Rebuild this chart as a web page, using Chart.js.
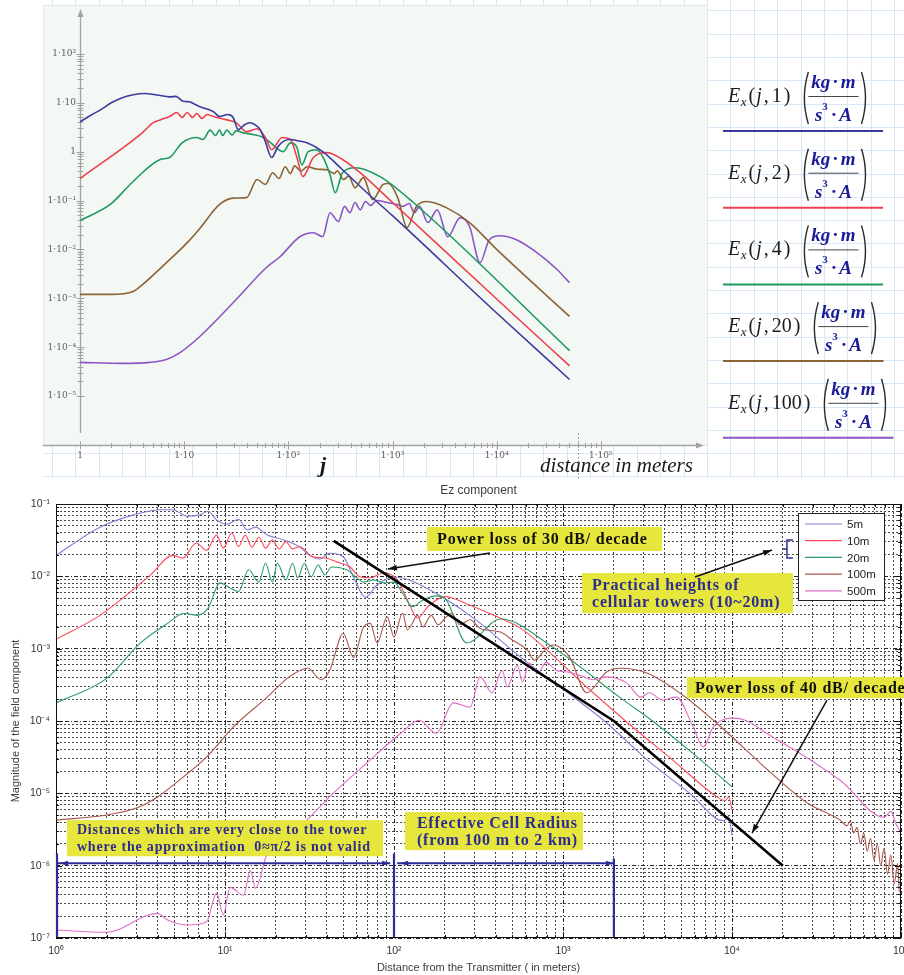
<!DOCTYPE html>
<html lang="en">
<head>
<meta charset="utf-8">
<title>Field magnitude versus distance from the transmitter</title>
<script src="https://cdn.jsdelivr.net/npm/chart.js@4.4.1/dist/chart.umd.min.js"></script>
<style>
  html, body { margin: 0; padding: 0; background: #ffffff; }
  #page { position: relative; width: 904px; height: 975px; overflow: hidden; }
  .panel { position: absolute; left: 0; width: 904px; }
  #exPanel { top: 0; height: 480px; }
  #ezPanel { top: 480px; height: 495px; }
</style>
</head>
<body>
<div id="page">
  <div class="panel" id="exPanel"><canvas id="exChart"></canvas></div>
  <div class="panel" id="ezPanel"><canvas id="ezChart"></canvas></div>
</div>
<script>
// ---------------------------------------------------------------------------
// Upper panel: Ex(j, p) for five source parameters.
// Values are stored as decades: log10(distance in m) and log10(|Ex|).
// ---------------------------------------------------------------------------
const exParams = [1, 2, 4, 20, 100];

const ex1LogD = [0, 0.1, 0.2, 0.3, 0.4, 0.5, 0.62, 0.74, 0.86, 0.92, 0.99, 1.05, 1.1, 1.15, 1.28, 1.34, 1.42, 1.47, 1.52, 1.58, 1.63, 1.68, 1.73, 1.78, 1.84, 1.9, 1.96, 2.02, 2.1, 2.18, 2.33, 2.52, 2.75, 3.0, 4.0, 4.7];
const ex1LogE = [0.61, 0.74, 0.86, 1.0, 1.1, 1.16, 1.19, 1.16, 1.12, 1.13, 1.03, 1.02, 0.97, 0.92, 0.82, 0.72, 0.76, 0.7, 0.45, 0.55, 0.59, 0.55, 0.45, 0.2, -0.12, 0.1, 0.22, 0.25, 0.22, 0.18, 0, -0.37, -0.83, -1.31, -3.3, -4.66];

const ex2LogD = [0, 0.6, 0.7, 0.77, 0.86, 0.93, 0.98, 1.03, 1.08, 1.12, 1.17, 1.22, 1.28, 1.41, 1.5, 1.6, 1.7, 1.78, 1.84, 1.94, 2.02, 2.08, 2.14, 2.24, 2.37, 2.52, 2.7, 3.0, 4.13, 4.7];
const ex2LogE = [-0.55, 0.39, 0.59, 0.65, 0.72, 0.8, 0.7, 0.8, 0.7, 0.78, 0.68, 0.76, 0.72, 0.65, 0.59, 0.41, 0.47, 0.29, 0.04, 0.29, 0.25, -0.1, -0.51, -0.12, -0.02, -0.16, -0.45, -1.04, -3.27, -4.38];

const ex4LogD = [0, 0.29, 0.51, 0.77, 0.86, 0.98, 1.12, 1.18, 1.25, 1.3, 1.34, 1.37, 1.41, 1.46, 1.5, 1.56, 1.66, 1.76, 1.82, 1.95, 2.02, 2.08, 2.13, 2.19, 2.27, 2.33, 2.4, 2.45, 2.52, 2.64, 2.88, 3.2, 4.7];
const ex4LogE = [-1.41, -1.08, -0.61, -0.16, -0.12, 0.18, 0.29, 0.25, 0.44, 0.33, 0.44, 0.33, 0.44, 0.34, 0.43, 0.39, 0.35, 0.29, 0.2, 0, 0.18, 0.1, -0.27, 0, 0.04, -0.1, -0.47, -0.84, -0.43, -0.33, -0.51, -1.04, -4.07];

const ex20LogD = [0, 0.3, 0.51, 0.6, 0.83, 1.03, 1.15, 1.34, 1.47, 1.6, 1.7, 1.78, 1.85, 1.91, 1.97, 2.02, 2.06, 2.12, 2.18, 2.28, 2.37, 2.44, 2.47, 2.53, 2.58, 2.64, 2.72, 2.81, 2.91, 2.96, 3.05, 3.14, 3.23, 3.33, 3.52, 3.74, 4.0, 4.7];
const ex20LogE = [-2.92, -2.92, -2.86, -2.72, -2.27, -1.86, -1.57, -1.08, -0.95, -0.94, -0.57, -0.67, -0.43, -0.55, -0.31, -0.45, -0.29, -0.4, -0.31, -0.36, -0.37, -0.45, -0.39, -0.57, -0.5, -0.74, -0.53, -0.98, -0.67, -0.65, -0.94, -1.55, -1.12, -1.02, -1.15, -1.45, -2.0, -3.37];

const ex100LogD = [0, 0.4, 0.67, 0.83, 0.96, 1.15, 1.47, 1.79, 1.92, 2.11, 2.24, 2.33, 2.4, 2.48, 2.54, 2.59, 2.64, 2.69, 2.74, 2.79, 2.85, 2.95, 3.04, 3.1, 3.16, 3.21, 3.26, 3.34, 3.43, 3.53, 3.65, 3.74, 3.84, 3.93, 4.03, 4.19, 4.39, 4.58, 4.7];
const ex100LogE = [-4.31, -4.33, -4.31, -4.25, -4.11, -3.78, -3.09, -2.37, -2.15, -1.74, -1.66, -1.74, -1.25, -1.43, -1.12, -1.25, -1.04, -1.19, -1.02, -1.1, -1.0, -1.04, -1.08, -1.12, -1.06, -1.25, -1.12, -1.45, -1.19, -1.74, -1.35, -1.53, -2.27, -1.8, -1.72, -1.8, -2.07, -2.41, -2.68];

const exXTickExp = [0, 1, 2, 3, 4, 5];
const exXTickLabels = ['1', '1·10', '1·10²', '1·10³', '1·10⁴', '1·10⁵'];
const exYTickExp = [2, 1, 0, -1, -2, -3, -4, -5];
const exYTickLabels = ['1·10²', '1·10', '1', '1·10⁻¹', '1·10⁻²', '1·10⁻³', '1·10⁻⁴', '1·10⁻⁵'];
const exRangeMarker = 6e4;

// ---------------------------------------------------------------------------
// Lower panel: Ez component for five tower heights (decades again).
// ---------------------------------------------------------------------------
const ezHeights = ['5m', '10m', '20m', '100m', '500m'];

const ez5LogD = [0, 0.26, 0.46, 0.62, 0.69, 0.78, 0.85, 0.9, 0.95, 1.01, 1.08, 1.13, 1.18, 1.25, 1.34, 1.44, 1.5, 1.56, 1.62, 1.7, 1.76, 1.83, 1.9, 2.0, 2.09, 2.19, 2.29, 2.5, 2.75, 3.0, 3.24, 3.5, 3.75, 3.95, 3.98, 4.0];
const ez5LogE = [-1.71, -1.32, -1.15, -1.08, -1.08, -1.17, -1.15, -1.1, -1.22, -1.28, -1.21, -1.36, -1.32, -1.43, -1.49, -1.59, -1.71, -1.76, -1.68, -1.73, -2.01, -2.29, -2.12, -2.01, -2.05, -2.16, -2.29, -2.63, -3.12, -3.56, -3.99, -4.54, -5.0, -5.38, -5.32, -5.58];

const ez10LogD = [0, 0.26, 0.56, 0.69, 0.75, 0.83, 0.89, 0.95, 0.99, 1.04, 1.08, 1.12, 1.16, 1.2, 1.24, 1.28, 1.32, 1.36, 1.4, 1.44, 1.52, 1.6, 1.66, 1.74, 1.8, 1.86, 1.94, 2.02, 2.08, 2.14, 2.2, 2.3, 2.45, 2.6, 2.75, 3.14, 3.41, 3.65, 3.9, 3.96, 3.98, 4.0];
const ez10LogE = [-2.87, -2.54, -1.98, -1.71, -1.75, -1.54, -1.64, -1.43, -1.61, -1.4, -1.59, -1.43, -1.6, -1.46, -1.61, -1.5, -1.62, -1.52, -1.62, -1.59, -1.73, -1.75, -1.8, -1.87, -2.01, -2.02, -1.95, -2.05, -2.33, -2.58, -2.42, -2.28, -2.4, -2.55, -2.72, -3.53, -4.08, -4.54, -5.03, -5.1, -5.05, -5.23];

const ez20LogD = [0, 0.3, 0.5, 0.66, 0.76, 0.83, 0.9, 0.97, 1.03, 1.08, 1.14, 1.2, 1.24, 1.28, 1.31, 1.36, 1.4, 1.43, 1.47, 1.51, 1.55, 1.59, 1.63, 1.72, 1.78, 1.82, 1.88, 1.94, 2.0, 2.05, 2.11, 2.17, 2.25, 2.31, 2.43, 2.63, 2.94, 3.34, 3.53, 3.77, 4.0];
const ez20LogE = [-3.75, -3.41, -2.92, -2.65, -2.51, -2.54, -2.44, -2.09, -2.16, -2.21, -1.91, -2.08, -1.82, -2.08, -1.82, -2.05, -1.82, -2.02, -1.82, -2.01, -1.84, -1.98, -1.87, -1.91, -2.02, -2.08, -2.05, -2.09, -2.08, -2.23, -2.42, -2.33, -2.27, -2.33, -2.92, -2.59, -2.98, -3.68, -4.0, -4.45, -4.91];

const ez100LogD = [0, 0.3, 0.48, 0.6, 0.75, 0.89, 1.05, 1.25, 1.38, 1.49, 1.57, 1.62, 1.7, 1.76, 1.82, 1.86, 1.9, 1.96, 2.0, 2.05, 2.08, 2.14, 2.17, 2.22, 2.26, 2.31, 2.34, 2.39, 2.45, 2.51, 2.63, 2.7, 2.79, 2.83, 2.9, 2.94, 3.04, 3.14, 3.26, 3.34, 3.5, 3.69, 3.89, 4.28, 4.45, 4.64, 4.68, 4.7, 4.72, 4.74, 4.76, 4.78, 4.8, 4.82, 4.84, 4.86, 4.88, 4.9, 4.92, 4.94, 4.96, 4.98, 4.99];
const ez100LogE = [-5.37, -5.3, -5.2, -5.05, -4.78, -4.5, -4.08, -3.67, -3.39, -3.27, -3.43, -3.3, -2.79, -3.12, -2.7, -2.65, -2.92, -2.56, -2.84, -2.51, -2.74, -2.54, -2.7, -2.54, -2.67, -2.56, -2.51, -2.67, -2.6, -2.72, -2.77, -2.88, -3.02, -3.16, -3.0, -2.95, -3.12, -3.61, -3.32, -3.27, -3.34, -3.61, -3.99, -4.82, -5.14, -5.37, -5.45, -5.38, -5.55, -5.47, -5.7, -5.55, -5.8, -5.62, -5.92, -5.7, -6.0, -5.76, -6.12, -5.85, -6.25, -5.97, -6.36];

const ez500LogD = [0, 0.3, 0.6, 0.66, 0.78, 0.89, 0.95, 0.99, 1.03, 1.11, 1.15, 1.18, 1.25, 1.44, 1.64, 1.84, 2.04, 2.15, 2.25, 2.35, 2.45, 2.51, 2.58, 2.64, 2.67, 2.73, 2.76, 2.8, 2.85, 2.9, 2.96, 3.02, 3.1, 3.18, 3.26, 3.38, 3.46, 3.51, 3.59, 3.67, 3.77, 3.83, 3.89, 4.02, 4.24, 4.64, 4.9, 4.94, 4.97, 5.0];
const ez500LogE = [-6.89, -6.92, -6.66, -6.75, -6.82, -6.78, -6.38, -6.68, -6.3, -6.41, -6.06, -6.31, -5.83, -5.47, -5.0, -4.58, -4.17, -3.99, -4.17, -3.75, -3.81, -3.39, -3.61, -3.3, -3.53, -3.23, -3.46, -3.2, -3.34, -3.19, -3.3, -3.32, -3.37, -3.43, -3.39, -3.48, -3.67, -3.61, -3.71, -3.67, -4.08, -4.36, -4.08, -3.96, -4.22, -4.82, -5.33, -5.25, -5.42, -5.55];

// Reference slope: 30 dB/decade out to 2 km, then 40 dB/decade (distance m, field).
const slopeGuideDist = [44, 2000, 20000];
const slopeGuideField = [0.031, 1e-4, 1e-6];

const ezXTickExp = [0, 1, 2, 3, 4, 5];
const ezXTickLabels = ['10⁰', '10¹', '10²', '10³', '10⁴', '10⁵'];
const ezYTickExp = [-7, -6, -5, -4, -3, -2, -1];
const ezYTickLabels = ['10⁻⁷', '10⁻⁶', '10⁻⁵', '10⁻⁴', '10⁻³', '10⁻²', '10⁻¹'];

// Callouts anchored in data coordinates (distance m, field value).
const calloutBoxes = [
  { x: [157, 3855], y: [0.0481, 0.0224], text: ['Power loss of 30 dB/ decade'], ink: '#111111', size: 16, inset: 10 },
  { x: [1295, 22950], y: [0.0111, 0.0031], text: ['Practical heights of', 'cellular towers (10~20m)'], ink: '#2d2d8f', size: 16, inset: 10 },
  { x: [5420, 150000], y: [4.05e-4, 2.07e-4], text: ['Power loss of 40 dB/ decade'], ink: '#111111', size: 16, inset: 8 },
  { x: [1.16, 86.1], y: [4.26e-6, 1.35e-6], text: ['Distances which are very close to the tower', 'where the approximation  0≈π/2 is not valid'], ink: '#2d2d8f', size: 14, inset: 10 },
  { x: [116, 1313], y: [5.5e-6, 1.64e-6], text: ['Effective Cell Radius', '(from 100 m to 2 km)'], ink: '#2d2d8f', size: 16, inset: 12 }
];
const pointerArrows = [
  { from: [370, 0.0210], to: [92, 0.01262] },
  { from: [6040, 0.00977], to: [17260, 0.0231] },
  { from: [36500, 1.95e-4], to: [13130, 2.82e-6] }
];
const spanArrows = [
  { from: 1, to: 95, at: 1.08e-6 },
  { from: 103, to: 2000, at: 1.08e-6 }
];
const spanEdges = [
  { x: 1, top: 1.48e-6 },
  { x: 100, top: 1.48e-6 },
  { x: 2000, top: 1.26e-6 }
];
const towerBracket = { x: 21150, y: [0.0318, 0.0179] };

// ---------------------------------------------------------------------------
// Helpers
// ---------------------------------------------------------------------------
const SERIF = '"Liberation Serif", "Times New Roman", serif';
const SANS = '"Liberation Sans", Arial, sans-serif';
Chart.defaults.font.family = SANS;

function fromDecades(logD, logE) {
  return logD.map((d, i) => ({ x: Math.pow(10, d), y: Math.pow(10, logE[i]) }));
}
function fromValues(xs, ys) {
  return xs.map((v, i) => ({ x: v, y: ys[i] }));
}
// 1..9 x 10^e tick positions for a logarithmic axis
function decadeTicks(minExp, maxExp) {
  const t = [];
  for (let e = minExp; e <= maxExp; e++) {
    for (let m = 1; m <= 9; m++) {
      if (e === maxExp && m > 1) break;
      t.push({ value: m * Math.pow(10, e), major: m === 1 });
    }
  }
  return t;
}
function decadeLabel(exps, labels) {
  return (value) => {
    const e = Math.log10(value);
    const r = Math.round(e);
    if (Math.abs(e - r) > 1e-6) return '';
    const k = exps.indexOf(r);
    return k < 0 ? '' : labels[k];
  };
}
function arrowHead(ctx, x0, y0, x1, y1, len, half) {
  const a = Math.atan2(y1 - y0, x1 - x0);
  const c = Math.cos(a), s = Math.sin(a);
  ctx.beginPath();
  ctx.moveTo(x1, y1);
  ctx.lineTo(x1 - len * c + half * s, y1 - len * s - half * c);
  ctx.lineTo(x1 - len * c - half * s, y1 - len * s + half * c);
  ctx.closePath();
  ctx.fill();
}

// ---------------------------------------------------------------------------
// Upper panel decorations: worksheet background, arrowed axes, unit legend
// ---------------------------------------------------------------------------
const worksheetDecor = {
  id: 'worksheetDecor',
  beforeDraw(chart) {
    const { ctx, width, chartArea: ca } = chart;
    ctx.save();
    ctx.fillStyle = '#ffffff';
    ctx.fillRect(0, 0, width, chart.height);
    const paperLeft = ca.left - 37;
    ctx.strokeStyle = '#d7e7f6';
    ctx.lineWidth = 1;
    ctx.beginPath();
    for (let gx = 707 - 23.4 * 28; gx < width; gx += 23.4) {
      if (gx < paperLeft) continue;
      const X = Math.round(gx) + 0.5;
      ctx.moveTo(X, 0); ctx.lineTo(X, 478);
    }
    for (let gy = 57 - 23.3 * 2; gy < 478; gy += 23.3) {
      if (gy < 0) continue;
      const Y = Math.round(gy) + 0.5;
      ctx.moveTo(paperLeft, Y); ctx.lineTo(width, Y);
    }
    ctx.stroke();
    ctx.fillStyle = '#f3f8f4';
    ctx.fillRect(paperLeft, ca.top, ca.right + 2 - paperLeft, ca.bottom - ca.top);
    ctx.strokeStyle = '#dde9ee';
    ctx.strokeRect(paperLeft + 0.5, ca.top + 0.5, ca.right + 2 - paperLeft, ca.bottom - ca.top);
    ctx.restore();
  },
  beforeDatasetsDraw(chart) {
    const { ctx, chartArea: ca, scales: { x, y } } = chart;
    ctx.save();
    ctx.strokeStyle = '#a3a3a3';
    ctx.fillStyle = '#a3a3a3';
    ctx.lineWidth = 1.3;
    const ay = Math.round(ca.bottom) + 0.5;
    const axl = Math.round(ca.left) + 0.5;
    ctx.beginPath();
    ctx.moveTo(ca.left - 37, ay); ctx.lineTo(ca.right - 4, ay);
    ctx.moveTo(axl, ca.bottom - 12); ctx.lineTo(axl, ca.top + 8);
    ctx.stroke();
    arrowHead(ctx, ca.right - 10, ay, ca.right - 1, ay, 8, 3);
    arrowHead(ctx, axl, ca.top + 14, axl, ca.top + 4, 8, 3);
    ctx.lineWidth = 1;
    ctx.beginPath();
    x.ticks.forEach(t => {
      if (t.value < 0.999 || t.value > 1.001e5) return;
      const X = Math.round(x.getPixelForValue(t.value)) + 0.5;
      const L = t.major ? 4 : 2.5;
      ctx.moveTo(X, ay - L); ctx.lineTo(X, ay + L);
    });
    y.ticks.forEach(t => {
      if (t.value < 0.999e-5 || t.value > 1.001e2) return;
      const Y = Math.round(y.getPixelForValue(t.value)) + 0.5;
      const L = t.major ? 4 : 3;
      ctx.moveTo(axl - L, Y); ctx.lineTo(axl + L, Y);
    });
    ctx.stroke();
    ctx.restore();
  },
  afterDraw(chart) {
    const { ctx, chartArea: ca, scales: { x } } = chart;
    ctx.save();
    // end-of-range marker on the distance axis
    const mx = Math.round(x.getPixelForValue(exRangeMarker)) + 0.5;
    ctx.strokeStyle = '#8a8a8a';
    ctx.setLineDash([1.5, 2.5]);
    ctx.beginPath(); ctx.moveTo(mx, ca.bottom - 12); ctx.lineTo(mx, 480); ctx.stroke();
    ctx.setLineDash([]);

    // axis captions
    ctx.fillStyle = '#1a1a1a';
    ctx.textBaseline = 'alphabetic';
    ctx.textAlign = 'center';
    ctx.font = `bold italic 22px ${SERIF}`;
    ctx.fillText('j', 323, 472);
    ctx.textAlign = 'left';
    ctx.font = `italic 21px ${SERIF}`;
    ctx.fillText('distance in meters', 540, 472);

    // series legend with units
    chart.data.datasets.forEach((ds, i) => {
      const base = 102 + 76.7 * i;
      let cx = 728;
      const put = (txt, font, dy, gap) => {
        ctx.font = font;
        ctx.fillText(txt, cx, base + dy);
        cx += ctx.measureText(txt).width + gap;
      };
      ctx.fillStyle = '#1c1c1c';
      ctx.textAlign = 'left';
      put('E', `italic 20px ${SERIF}`, 0, 0.5);
      put('x', `italic 13px ${SERIF}`, 4, 2);
      put('(', `20px ${SERIF}`, 0, 1);
      put('j', `italic 20px ${SERIF}`, 0, 2);
      put(',', `20px ${SERIF}`, 0, 3);
      put(String(exParams[i]), `20px ${SERIF}`, 0, 2);
      put(')', `20px ${SERIF}`, 0, 0);

      const open = cx + 13;
      const bi = `bold italic 19px ${SERIF}`;
      const bd = `bold 19px ${SERIF}`;
      ctx.font = bi;
      const wkg = ctx.measureText('kg').width, wm = ctx.measureText('m').width;
      const ws = ctx.measureText('s').width, wA = ctx.measureText('A').width;
      ctx.font = bd;
      const wdot = ctx.measureText('·').width;
      ctx.font = `bold 11px ${SERIF}`;
      const w3 = ctx.measureText('3').width;
      const numW = wkg + 2 + wdot + 2 + wm;
      const denW = ws + w3 + 3 + wdot + 2 + wA;
      const lineL = open + 5, lineR = open + 5 + numW + 6;
      const mid = (lineL + lineR) / 2;

      ctx.fillStyle = '#1b1b96';
      let nx = mid - numW / 2;
      ctx.font = bi; ctx.fillText('kg', nx, base - 14); nx += wkg + 2;
      ctx.font = bd; ctx.fillText('·', nx, base - 14); nx += wdot + 2;
      ctx.font = bi; ctx.fillText('m', nx, base - 14);
      let dx = mid - denW / 2;
      ctx.font = bi; ctx.fillText('s', dx, base + 19); dx += ws;
      ctx.font = `bold 11px ${SERIF}`; ctx.fillText('3', dx, base + 8); dx += w3 + 3;
      ctx.font = bd; ctx.fillText('·', dx, base + 19); dx += wdot + 2;
      ctx.font = bi; ctx.fillText('A', dx, base + 19);

      ctx.strokeStyle = '#444444';
      ctx.lineWidth = 1;
      ctx.beginPath(); ctx.moveTo(lineL, base - 5.5); ctx.lineTo(lineR, base - 5.5); ctx.stroke();

      const top = base - 30, bot = base + 22, pm = (top + bot) / 2;
      const close = lineR + 3;
      ctx.strokeStyle = '#2a2a2a';
      ctx.lineWidth = 1.4;
      ctx.beginPath();
      ctx.moveTo(open + 5, top); ctx.quadraticCurveTo(open - 3, pm, open + 5, bot);
      ctx.moveTo(close, top); ctx.quadraticCurveTo(close + 8, pm, close, bot);
      ctx.stroke();

      ctx.strokeStyle = ds.borderColor;
      ctx.lineWidth = 2;
      ctx.beginPath();
      ctx.moveTo(723, base + 29);
      ctx.lineTo(Math.min(904, Math.max(883, close + 12)), base + 29);
      ctx.stroke();
    });
    ctx.restore();
  }
};

// ---------------------------------------------------------------------------
// Lower panel decorations: box, callouts, arrows, legend and titles
// ---------------------------------------------------------------------------
const plotDecor = {
  id: 'plotDecor',
  afterDatasetsDraw(chart) {
    const { ctx, chartArea: ca, scales: { x, y } } = chart;
    const px = v => x.getPixelForValue(v);
    const py = v => y.getPixelForValue(v);
    ctx.save();

    // axes box with inward ticks
    ctx.strokeStyle = '#111111';
    ctx.lineWidth = 1;
    ctx.strokeRect(Math.round(ca.left) + 0.5, Math.round(ca.top) + 0.5, Math.round(ca.width) - 1, Math.round(ca.height) - 1);
    ctx.beginPath();
    x.ticks.forEach(t => {
      const X = Math.round(px(t.value)) + 0.5, L = t.major ? 6 : 3;
      ctx.moveTo(X, ca.bottom); ctx.lineTo(X, ca.bottom - L);
      ctx.moveTo(X, ca.top); ctx.lineTo(X, ca.top + L);
    });
    y.ticks.forEach(t => {
      const Y = Math.round(py(t.value)) + 0.5, L = t.major ? 6 : 3;
      ctx.moveTo(ca.left, Y); ctx.lineTo(ca.left + L, Y);
      ctx.moveTo(ca.right, Y); ctx.lineTo(ca.right - L, Y);
    });
    ctx.stroke();

    // yellow callouts
    calloutBoxes.forEach(b => {
      const x0 = px(b.x[0]), x1 = px(b.x[1]), y0 = py(b.y[0]), y1 = py(b.y[1]);
      ctx.fillStyle = '#e6e63c';
      ctx.fillRect(x0, y0, x1 - x0, y1 - y0);
      ctx.fillStyle = b.ink;
      ctx.font = `bold ${b.size}px ${SERIF}`;
      if ('letterSpacing' in ctx) ctx.letterSpacing = '0.8px';
      ctx.textAlign = 'left';
      ctx.textBaseline = 'middle';
      const lh = 17, cy = (y0 + y1) / 2;
      b.text.forEach((s, i) => ctx.fillText(s, x0 + b.inset, cy + (i - (b.text.length - 1) / 2) * lh + 1));
      if ('letterSpacing' in ctx) ctx.letterSpacing = '0px';
    });

    // pointer arrows
    ctx.strokeStyle = '#111111';
    ctx.fillStyle = '#111111';
    ctx.lineWidth = 1.5;
    pointerArrows.forEach(a => {
      const x0 = px(a.from[0]), y0 = py(a.from[1]), x1 = px(a.to[0]), y1 = py(a.to[1]);
      ctx.beginPath(); ctx.moveTo(x0, y0); ctx.lineTo(x1, y1); ctx.stroke();
      arrowHead(ctx, x0, y0, x1, y1, 9, 3);
    });

    // bracket marking practical tower heights
    const bx = px(towerBracket.x), bt = py(towerBracket.y[0]), bb = py(towerBracket.y[1]);
    ctx.strokeStyle = '#2d2d9a';
    ctx.lineWidth = 1.5;
    ctx.beginPath();
    ctx.moveTo(bx + 6, bt); ctx.lineTo(bx, bt); ctx.lineTo(bx, bb); ctx.lineTo(bx + 6, bb);
    ctx.moveTo(bx, (bt + bb) / 2); ctx.lineTo(bx - 4, (bt + bb) / 2);
    ctx.stroke();

    // distance spans along the bottom
    ctx.strokeStyle = '#2d2d9a';
    ctx.fillStyle = '#2d2d9a';
    ctx.lineWidth = 2;
    spanArrows.forEach(s => {
      const x0 = px(s.from) + 1, x1 = px(s.to), yy = py(s.at);
      ctx.beginPath(); ctx.moveTo(x0, yy); ctx.lineTo(x1, yy); ctx.stroke();
      arrowHead(ctx, x1, yy, x0 + 3, yy, 8, 2.5);
      arrowHead(ctx, x0, yy, x1, yy, 8, 2.5);
    });
    ctx.lineWidth = 2.2;
    spanEdges.forEach(e => {
      const X = px(e.x) + (e.x === 1 ? 1 : 0);
      ctx.beginPath(); ctx.moveTo(X, py(e.top)); ctx.lineTo(X, ca.bottom - 1); ctx.stroke();
    });

    // legend
    const lx = Math.round(ca.right) - 103, ly = Math.round(ca.top) + 9, lw = 86, lh = 87;
    ctx.fillStyle = '#ffffff';
    ctx.fillRect(lx, ly, lw, lh);
    ctx.strokeStyle = '#222222';
    ctx.lineWidth = 1;
    ctx.strokeRect(lx + 0.5, ly + 0.5, lw, lh);
    ctx.font = `11.5px ${SANS}`;
    ctx.textAlign = 'left';
    ctx.textBaseline = 'middle';
    chart.data.datasets.slice(0, ezHeights.length).forEach((ds, i) => {
      const yy = ly + 11 + i * 16.7;
      ctx.strokeStyle = ds.borderColor;
      ctx.lineWidth = 1.2;
      ctx.beginPath(); ctx.moveTo(lx + 7, yy); ctx.lineTo(lx + 44, yy); ctx.stroke();
      ctx.fillStyle = '#222222';
      ctx.fillText(ds.label, lx + 49, yy + 1);
    });
    ctx.restore();
  },
  afterDraw(chart) {
    const { ctx, chartArea: ca } = chart;
    ctx.save();
    ctx.fillStyle = '#3c3c3c';
    ctx.textAlign = 'center';
    ctx.textBaseline = 'middle';
    const cx = (ca.left + ca.right) / 2;
    ctx.font = `12px ${SANS}`;
    ctx.fillText('Ez component', cx, 11);
    ctx.font = `11px ${SANS}`;
    ctx.fillText('Distance from the Transmitter ( in meters)', cx, 488);
    ctx.translate(16, (ca.top + ca.bottom) / 2);
    ctx.rotate(-Math.PI / 2);
    ctx.fillText('Magnitude of the field component', 0, 0);
    ctx.restore();
  }
};

// ---------------------------------------------------------------------------
// Charts
// ---------------------------------------------------------------------------
const exSeries = [[ex1LogD, ex1LogE], [ex2LogD, ex2LogE], [ex4LogD, ex4LogE], [ex20LogD, ex20LogE], [ex100LogD, ex100LogE]];
const exColors = ['#3b3b9e', '#ef3f4e', '#1f9963', '#8b6334', '#8c55c6'];

new Chart(document.getElementById('exChart'), {
  type: 'line',
  data: {
    datasets: exParams.map((p, i) => ({
      label: 'Ex(j,' + p + ')',
      data: fromDecades(exSeries[i][0], exSeries[i][1]),
      borderColor: exColors[i],
      borderWidth: 1.6,
      pointRadius: 0,
      fill: false,
      cubicInterpolationMode: 'monotone'
    }))
  },
  options: {
    responsive: true,
    maintainAspectRatio: false,
    animation: false,
    devicePixelRatio: 1,
    events: [],
    layout: { padding: { top: 5, right: 199, bottom: 0, left: 0 } },
    plugins: { legend: { display: false }, tooltip: { enabled: false } },
    scales: {
      x: {
        type: 'logarithmic', min: 1, max: 1e6,
        grid: { display: false, drawTicks: false },
        border: { display: false },
        afterBuildTicks: s => { s.ticks = decadeTicks(0, 6); },
        afterFit: s => { s.height = 35; s.paddingLeft = 0; s.paddingRight = 0; },
        ticks: { autoSkip: false, maxRotation: 0, minRotation: 0, padding: 5, color: '#5c5c5c',
                 font: { family: '"DejaVu Serif", serif', size: 9 }, callback: decadeLabel(exXTickExp, exXTickLabels) }
      },
      y: {
        type: 'logarithmic', min: 1e-6, max: 1e3,
        grid: { display: false, drawTicks: false },
        border: { display: false },
        afterBuildTicks: s => { s.ticks = decadeTicks(-6, 3); },
        afterFit: s => { s.width = 80; s.paddingTop = 0; s.paddingBottom = 0; },
        ticks: { autoSkip: false, padding: 4, color: '#5c5c5c',
                 font: { family: '"DejaVu Serif", serif', size: 9 }, callback: decadeLabel(exYTickExp, exYTickLabels) }
      }
    }
  },
  plugins: [worksheetDecor]
});

const ezSeries = [[ez5LogD, ez5LogE], [ez10LogD, ez10LogE], [ez20LogD, ez20LogE], [ez100LogD, ez100LogE], [ez500LogD, ez500LogE]];
const ezColors = ['#7e7ed6', '#ff4b5c', '#2c9d69', '#a9574c', '#e06ec6'];

const ezDatasets = ezHeights.map((h, i) => ({
  label: h,
  data: fromDecades(ezSeries[i][0], ezSeries[i][1]),
  borderColor: ezColors[i],
  borderWidth: 1.1,
  pointRadius: 0,
  fill: false,
  cubicInterpolationMode: 'monotone',
  order: ezHeights.length - i
}));
ezDatasets.push({
  label: 'slope guide',
  data: fromValues(slopeGuideDist, slopeGuideField),
  borderColor: '#000000',
  borderWidth: 2.6,
  pointRadius: 0,
  fill: false,
  tension: 0,
  order: -1
});

const gridDash = c => (c.tick && c.tick.major) ? [4, 2, 1, 2] : [2, 2];
const gridColor = c => (c.tick && c.tick.major) ? '#262626' : '#4a4a4a';

new Chart(document.getElementById('ezChart'), {
  type: 'line',
  data: { datasets: ezDatasets },
  options: {
    responsive: true,
    maintainAspectRatio: false,
    animation: false,
    devicePixelRatio: 1,
    events: [],
    layout: { padding: { top: 24, right: 3, bottom: 0, left: 0 } },
    plugins: { legend: { display: false }, tooltip: { enabled: false } },
    scales: {
      x: {
        type: 'logarithmic', min: 1, max: 1e5,
        grid: { display: true, drawTicks: false, color: gridColor, lineWidth: 1 },
        border: { display: false, dash: gridDash },
        afterBuildTicks: s => { s.ticks = decadeTicks(0, 5); },
        afterFit: s => { s.height = 37; s.paddingLeft = 0; s.paddingRight = 0; },
        ticks: { autoSkip: false, maxRotation: 0, minRotation: 0, padding: 7, color: '#333333',
                 font: { family: SANS, size: 10.5 }, callback: decadeLabel(ezXTickExp, ezXTickLabels) }
      },
      y: {
        type: 'logarithmic', min: 1e-7, max: 1e-1,
        grid: { display: true, drawTicks: false, color: gridColor, lineWidth: 1 },
        border: { display: false, dash: gridDash },
        afterBuildTicks: s => { s.ticks = decadeTicks(-7, -1); },
        afterFit: s => { s.width = 56; s.paddingTop = 0; s.paddingBottom = 0; },
        ticks: { autoSkip: false, padding: 6, color: '#333333',
                 font: { family: SANS, size: 10.5 }, callback: decadeLabel(ezYTickExp, ezYTickLabels) }
      }
    }
  },
  plugins: [plotDecor]
});
</script>
</body>
</html>
